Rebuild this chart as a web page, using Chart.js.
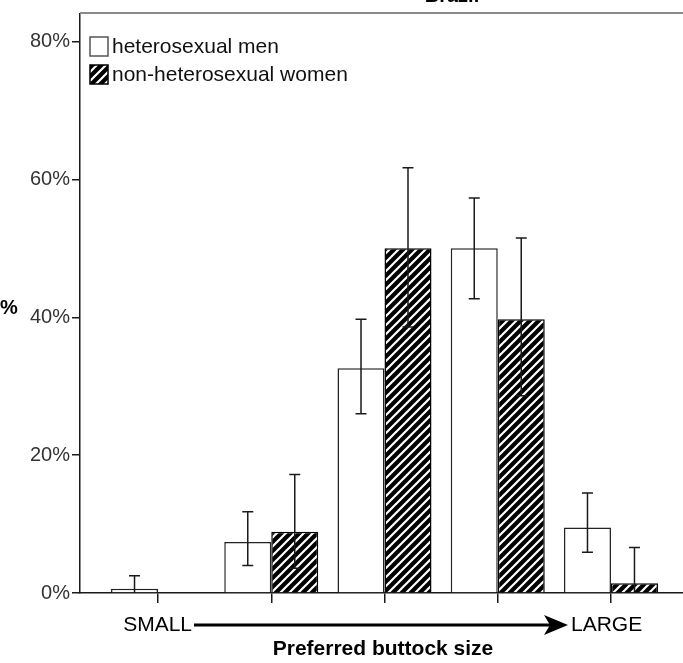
<!DOCTYPE html>
<html>
<head>
<meta charset="utf-8">
<script src="https://cdn.jsdelivr.net/npm/chart.js@4.4.1/dist/chart.umd.min.js"></script>
<style>
  html, body { margin: 0; padding: 0; background: #fff; }
  #wrap { position: relative; width: 683px; height: 663px; overflow: hidden; }
</style>
</head>
<body>
<div id="wrap"><canvas id="chart" width="683" height="663"></canvas></div>
<script>
// Preferred buttock size, 1 = small ... 5 = large
const sizes = [1, 2, 3, 4, 5];
const seriesNames = ['heterosexual men', 'non-heterosexual women'];

// percentages and 95% CI ends
const menPct = [0.6, 7.4, 32.6, 50.0, 9.5];
const menLow = [0, 4.0, 26.0, 42.7, 5.9];
const menHigh = [2.5, 11.8, 39.7, 57.3, 14.5];

const womenPct = [0, 8.9, 50.0, 39.7, 1.4];
const womenLow = [null, 3.6, 38.6, 28.6, 0];
const womenHigh = [null, 17.2, 61.7, 51.5, 6.6];

const yTicks = [0, 20, 40, 60, 80];

const FONT = '"Liberation Sans", Arial, sans-serif';
const INK = '#1a1a1a';

// diagonal hatch: black with white "/" stripes
function makeHatch() {
  const s = 9;
  const c = document.createElement('canvas');
  c.width = s; c.height = s;
  const g = c.getContext('2d');
  g.fillStyle = '#000';
  g.fillRect(0, 0, s, s);
  g.strokeStyle = '#fff';
  g.lineWidth = 2.2;
  g.beginPath();
  g.moveTo(0, s); g.lineTo(s, 0);
  g.moveTo(-2, 2); g.lineTo(2, -2);
  g.moveTo(s - 2, s + 2); g.lineTo(s + 2, s - 2);
  g.stroke();
  return g.createPattern(c, 'repeat');
}
const hatch = makeHatch();

const errors = [
  { low: menLow, high: menHigh },
  { low: womenLow, high: womenHigh }
];

// error bars, frame, legend and the SMALL -> LARGE annotation
const extras = {
  id: 'extras',
  afterDatasetsDraw(chart) {
    const ctx = chart.ctx;
    const y = chart.scales.y;
    const area = chart.chartArea;
    ctx.save();

    // error bars
    ctx.strokeStyle = INK;
    ctx.lineWidth = 1.5;
    errors.forEach((err, di) => {
      const meta = chart.getDatasetMeta(di);
      meta.data.forEach((bar, i) => {
        if (err.low[i] === null) return;
        const x = bar.x;
        const yl = y.getPixelForValue(err.low[i]);
        const yh = y.getPixelForValue(err.high[i]);
        ctx.beginPath();
        ctx.moveTo(x, yl); ctx.lineTo(x, yh);
        ctx.moveTo(x - 5.5, yh); ctx.lineTo(x + 5.5, yh);
        if (err.low[i] > 0) { ctx.moveTo(x - 5.5, yl); ctx.lineTo(x + 5.5, yl); }
        ctx.stroke();
      });
    });

    // top frame line
    ctx.strokeStyle = '#8a8a8a';
    ctx.lineWidth = 2;
    ctx.beginPath();
    ctx.moveTo(area.left, area.top - 1);
    ctx.lineTo(area.right, area.top - 1);
    ctx.stroke();

    // cut-off panel title
    ctx.fillStyle = '#000';
    ctx.font = 'bold 20px ' + FONT;
    ctx.textAlign = 'center';
    ctx.textBaseline = 'alphabetic';
    ctx.fillText('Brazil', 452, 2);

    // y axis title
    ctx.textAlign = 'left';
    ctx.textBaseline = 'middle';
    ctx.fillText('%', 0, 308);

    // legend
    const fills = ['#fff', hatch];
    ctx.font = '21px ' + FONT;
    seriesNames.forEach((name, i) => {
      const top = 37 + i * 28;
      ctx.fillStyle = fills[i];
      ctx.fillRect(90, top, 18, 19);
      ctx.strokeStyle = i === 0 ? '#555' : '#000';
      ctx.lineWidth = 1.5;
      ctx.strokeRect(90, top, 18, 19);
      ctx.fillStyle = '#111';
      ctx.fillText(name, 112, top + 10);
    });

    // SMALL ---> LARGE
    ctx.fillStyle = '#000';
    ctx.font = '21px ' + FONT;
    ctx.textBaseline = 'middle';
    ctx.textAlign = 'right';
    ctx.fillText('SMALL', 192, 625);
    ctx.textAlign = 'left';
    ctx.fillText('LARGE', 571, 625);
    ctx.strokeStyle = '#000';
    ctx.lineWidth = 3;
    ctx.beginPath();
    ctx.moveTo(194, 625); ctx.lineTo(556, 625);
    ctx.stroke();
    ctx.beginPath();
    ctx.moveTo(568, 625); ctx.lineTo(544, 615); ctx.lineTo(550, 625); ctx.lineTo(544, 635);
    ctx.closePath();
    ctx.fill();

    ctx.font = 'bold 21px ' + FONT;
    ctx.textAlign = 'center';
    ctx.fillText('Preferred buttock size', 383, 649);
    ctx.restore();
  }
};

new Chart(document.getElementById('chart'), {
  type: 'bar',
  data: {
    datasets: [
      {
        label: seriesNames[0],
        data: sizes.map((s, i) => ({ x: s, y: menPct[i] })),
        backgroundColor: '#fff',
        borderColor: '#222',
        borderWidth: 1.5
      },
      {
        label: seriesNames[1],
        data: sizes.map((s, i) => ({ x: s, y: womenPct[i] })),
        backgroundColor: hatch,
        borderColor: '#000',
        borderWidth: 1.5
      }
    ]
  },
  options: {
    responsive: false,
    animation: false,
    categoryPercentage: 0.83,
    barPercentage: 1.0,
    layout: { padding: { top: 10, right: 0, left: 0, bottom: 0 } },
    plugins: {
      legend: { display: false },
      title: { display: false },
      tooltip: { enabled: false }
    },
    scales: {
      x: {
        type: 'linear',
        offset: false,
        min: 0.311,
        max: 5.636,
        afterBuildTicks: (scale) => { scale.ticks = sizes.map(v => ({ value: v })); },
        afterFit: (scale) => { scale.height = 70; },
        ticks: { display: false },
        grid: { offset: false, drawOnChartArea: false, drawTicks: true, tickLength: 10, color: INK, lineWidth: 1.5 },
        border: { color: INK, width: 1.5 }
      },
      y: {
        min: 0,
        max: 84,
        afterBuildTicks: (scale) => { scale.ticks = yTicks.map(v => ({ value: v })); },
        afterFit: (scale) => { scale.width = 80; },
        ticks: {
          callback: (v) => v + '%',
          color: '#333',
          padding: 2,
          font: { family: FONT, size: 20 }
        },
        grid: { drawOnChartArea: false, tickLength: 8, color: INK, lineWidth: 1.5 },
        border: { color: INK, width: 1.5 }
      }
    }
  },
  plugins: [extras]
});
</script>
</body>
</html>
